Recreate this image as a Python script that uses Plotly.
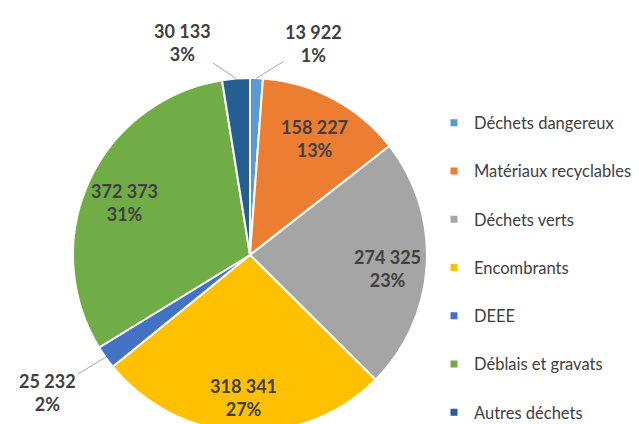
import math
import plotly.graph_objects as go

categories = ["Déchets dangereux", "Matériaux recyclables", "Déchets verts",
              "Encombrants", "DEEE", "Déblais et gravats", "Autres déchets"]
values = [13922, 158227, 274325, 318341, 25232, 372373, 30133]
colors = ["#5B9BD5", "#ED7D31", "#A5A5A5", "#FFC000", "#4472C4", "#70AD47", "#255E91"]
# label offsets (pixels) for slices labelled outside the pie, relative to the rim point
outside_labels = {"Déchets dangereux": (57, -35), "Autres déchets": (-53, -36), "DEEE": (-58, 35)}

W, H = 639, 424
CX, CY, R = 242, 247, 177
INSIDE_FRAC = 0.78
INSIDE_DY = 5
FONT = "Lato, 'Open Sans', sans-serif"
TXT = "#404040"

total = sum(values)

def label_text(v):
    return f"{v:,}".replace(",", " ") + f"<br>{round(100 * v / total)}%"

fig = go.Figure()
fig.add_trace(go.Pie(
    labels=categories, values=values, sort=False, direction="clockwise", rotation=0,
    marker=dict(colors=colors, line=dict(color="white", width=2)),
    textinfo="none",
    domain=dict(x=[(CX - R) / W, (CX + R) / W], y=[max(0, (H - CY - R) / H), (H - CY + R) / H]),
    showlegend=False, hoverinfo="label+value+percent",
))

cum = 0
for c, v in zip(categories, values):
    mid = (cum + v / 2) / total * 2 * math.pi
    cum += v
    if c in outside_labels:
        px = CX + R * math.sin(mid)
        py = CY - R * math.cos(mid)
        ax, ay = outside_labels[c]
        fig.add_annotation(
            x=px / W, y=1 - py / H, xref="paper", yref="paper",
            text=label_text(v),
            showarrow=True, arrowhead=0, arrowwidth=1, arrowcolor="#A6A6A6",
            ax=ax, ay=ay, font=dict(family=FONT, size=18, color=TXT, weight="bold"),
            align="center", standoff=0,
        )
    else:
        px = CX + INSIDE_FRAC * R * math.sin(mid)
        py = CY - INSIDE_FRAC * R * math.cos(mid) + INSIDE_DY
        fig.add_annotation(
            x=px / W, y=1 - py / H, xref="paper", yref="paper",
            xanchor="center", yanchor="middle",
            text=label_text(v), showarrow=False,
            font=dict(family=FONT, size=18, color=TXT, weight="bold"), align="center",
        )

# legend entries
for c, col in zip(categories, colors):
    fig.add_trace(go.Scatter(
        x=[None], y=[None], mode="markers", name=c, legendgroup=c,
        marker=dict(symbol="square", size=7, color=col), showlegend=True,
    ))

fig.update_layout(
    width=W, height=H, margin=dict(l=0, r=0, t=0, b=0, autoexpand=False),
    paper_bgcolor="white", plot_bgcolor="white",
    xaxis=dict(visible=False), yaxis=dict(visible=False),
    legend=dict(x=426 / W, y=0.770, xanchor="left", yanchor="top",
                font=dict(family=FONT, size=16.5, color=TXT),
                tracegroupgap=23.8, traceorder="grouped", itemclick=False,
                bgcolor="rgba(0,0,0,0)"),
)

fig.write_html("out.html")
